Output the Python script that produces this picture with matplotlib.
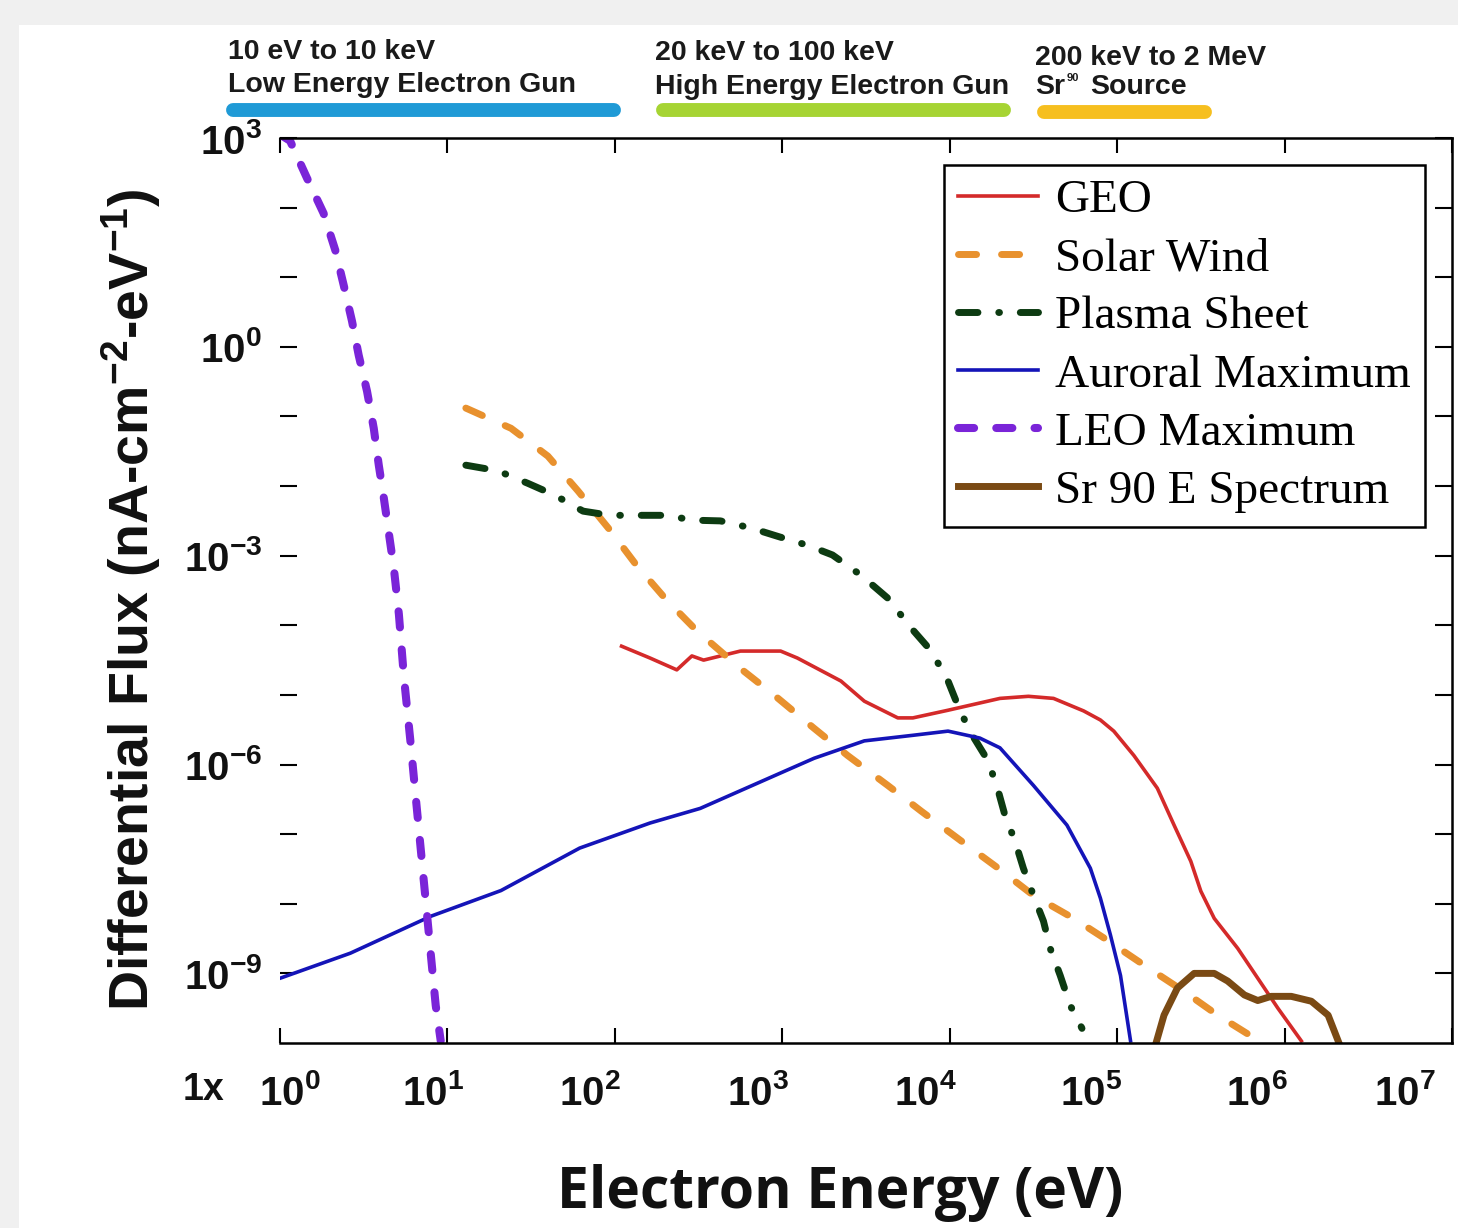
import numpy as np
import matplotlib
matplotlib.use("Agg")
import matplotlib.pyplot as plt
from matplotlib.lines import Line2D
from matplotlib.patches import Rectangle
from matplotlib.ticker import FixedLocator, FixedFormatter, NullLocator

# ==========================================================
# DATA (log10 of eV and of flux)
# ==========================================================
geo_log_e = [2.04, 2.21, 2.37, 2.46, 2.53, 2.75, 2.99, 3.09, 3.35, 3.49, 3.69, 3.78, 3.99,
             4.30, 4.47, 4.62, 4.80, 4.90, 4.98, 5.10, 5.24, 5.34, 5.44, 5.50, 5.58, 5.72,
             5.84, 5.96, 6.10]
geo_log_f = [-4.30, -4.47, -4.64, -4.44, -4.50, -4.37, -4.37, -4.47, -4.80, -5.09, -5.33, -5.33,
             -5.22, -5.05, -5.02, -5.05, -5.23, -5.36, -5.52, -5.87, -6.34, -6.87, -7.39, -7.82,
             -8.21, -8.64, -9.07, -9.50, -9.97]

sw_log_e = [1.11, 1.38, 1.60, 1.78, 1.97, 2.13, 2.31, 2.49, 2.75, 2.95, 3.19, 3.39, 3.63,
            3.83, 4.07, 4.29, 4.50, 4.74, 4.92, 5.16, 5.40, 5.60, 5.82, 5.89]
sw_log_f = [-0.88, -1.17, -1.57, -2.07, -2.63, -3.14, -3.64, -4.08, -4.62, -5.00, -5.48,
            -5.87, -6.30, -6.67, -7.10, -7.49, -7.88, -8.21, -8.49, -8.88, -9.26, -9.60,
            -9.93, -10.05]

ps_log_e = [1.11, 1.30, 1.48, 1.64, 1.81, 1.97, 2.15, 2.30, 2.47, 2.63, 2.81, 2.97, 3.15,
            3.30, 3.47, 3.63, 3.77, 3.89, 3.99, 4.05, 4.12, 4.23, 4.29, 4.33, 4.39, 4.44,
            4.50, 4.56, 4.60, 4.66, 4.72, 4.79]
ps_log_f = [-1.70, -1.78, -1.96, -2.13, -2.36, -2.42, -2.42, -2.42, -2.49, -2.50, -2.60,
            -2.72, -2.85, -2.99, -3.28, -3.61, -4.04, -4.37, -4.80, -5.16, -5.52, -5.95,
            -6.38, -6.73, -7.10, -7.49, -7.88, -8.25, -8.64, -9.03, -9.46, -9.79]

aur_log_e = [0.00, 0.42, 0.90, 1.32, 1.79, 2.21, 2.51, 3.01, 3.19, 3.49, 3.78, 3.99, 4.18,
             4.30, 4.50, 4.70, 4.84, 4.90, 4.96, 5.02, 5.08]
aur_log_f = [-9.07, -8.71, -8.18, -7.81, -7.20, -6.84, -6.63, -6.10, -5.91, -5.66, -5.58,
             -5.52, -5.62, -5.76, -6.30, -6.87, -7.49, -7.92, -8.45, -9.03, -9.97]

leo_log_e = [0.00, 0.06, 0.16, 0.26, 0.33, 0.38, 0.43, 0.47, 0.52, 0.56, 0.59, 0.62, 0.68,
             0.71, 0.74, 0.78, 0.81, 0.84, 0.87, 0.90, 0.93, 0.96]
leo_log_f = [3.05, 2.96, 2.43, 1.92, 1.39, 0.89, 0.37, -0.12, -0.64, -1.17, -1.70, -2.17,
             -3.18, -3.84, -4.74, -5.69, -6.45, -7.20, -7.95, -8.71, -9.46, -9.97]

sr_log_e = [5.23, 5.28, 5.36, 5.46, 5.58, 5.66, 5.76, 5.84, 5.92, 6.04, 6.16, 6.26, 6.32]
sr_log_f = [-10.02, -9.60, -9.21, -9.00, -9.00, -9.11, -9.31, -9.39, -9.33, -9.33, -9.40,
            -9.60, -9.97]

band_ranges = ["10 eV to 10 keV", "20 keV to 100 keV", "200 keV to 2 MeV"]
band_names = ["Low Energy Electron Gun", "High Energy Electron Gun", "Source"]
band_colors = ["#1f9ad6", "#a6d433", "#f6bf1f"]

x_decades = list(range(0, 8))
y_decades = list(range(-9, 4))
y_labelled = [3, 0, -3, -6, -9]

# ==========================================================
# STYLE
# ==========================================================
plt.rcParams["font.family"] = ["Liberation Sans", "DejaVu Sans"]
plt.rcParams["mathtext.fontset"] = "custom"
plt.rcParams["mathtext.rm"] = "Liberation Sans"
plt.rcParams["mathtext.bf"] = "Liberation Sans:bold"
plt.rcParams["mathtext.it"] = "Liberation Sans:italic"

W, H = 1458, 1228
fig = plt.figure(figsize=(W / 100, H / 100), dpi=100, facecolor="#f0f0f0")
fig.add_artist(Rectangle((19 / W, 0), 1, (H - 25) / H, transform=fig.transFigure,
                         facecolor="white", edgecolor="none", zorder=-10))

ax = fig.add_axes([280 / W, 1 - 1043 / H, (1452 - 280) / W, (1043 - 138) / H])
ax.set_facecolor("white")

# ==========================================================
# CURVES
# ==========================================================
def pw(v):
    return 10.0 ** np.array(v)

ax.plot(pw(geo_log_e), pw(geo_log_f), color="#d42a2a", lw=2.6, label="GEO")
ax.plot(pw(sw_log_e), pw(sw_log_f), color="#e8912e", lw=5, dashes=(2.6, 3.6),
        dash_capstyle="round", label="Solar Wind")
ax.plot(pw(ps_log_e), pw(ps_log_f), color="#0d3b12", lw=5, dashes=(2.8, 3.0, 0.1, 3.0),
        dash_capstyle="round", label="Plasma Sheet")
ax.plot(pw(aur_log_e), pw(aur_log_f), color="#1414b8", lw=2.6, label="Auroral Maximum")
ax.plot(pw(leo_log_e), pw(leo_log_f), color="#7a24d8", lw=5.8, dashes=(2.0, 2.75),
        dash_capstyle="round", label="LEO Maximum")
ax.plot(pw(sr_log_e), pw(sr_log_f), color="#7a4a14", lw=5, label="Sr 90 E Spectrum")

# ==========================================================
# AXES
# ==========================================================
ax.set_xscale("log")
ax.set_yscale("log")
ax.set_xlim(1, 1e7)
ax.set_ylim(1e-10, 1e3)

for side in ["top", "right", "bottom"]:
    ax.spines[side].set_linewidth(1.8)
ax.spines["left"].set_visible(False)

ax.xaxis.set_major_locator(FixedLocator([10.0 ** d for d in x_decades]))
ax.xaxis.set_minor_locator(NullLocator())
ax.yaxis.set_major_locator(FixedLocator([10.0 ** d for d in y_decades]))
ax.yaxis.set_minor_locator(NullLocator())
ax.yaxis.set_major_formatter(FixedFormatter(
    [r"$\mathbf{10^{%d}}$" % d if d in y_labelled else "" for d in y_decades]))

ax.tick_params(axis="x", direction="in", top=True, bottom=True, length=11, width=1.5,
               labelbottom=False)
ax.tick_params(axis="y", direction="in", left=True, right=True, length=12, width=1.5,
               pad=13, labelsize=29, labelcolor="#111111")

# x tick labels, shifted a little like the original
x_label_shift = [10, -14, -25, -24, -24, -26, -28, -47]
for d, dx in zip(x_decades, x_label_shift):
    ax.annotate(r"$\mathbf{10^{%d}}$" % d, xy=(10.0 ** d, 0), xycoords=("data", "axes fraction"),
                xytext=(dx * 0.72, -22), textcoords="offset points",
                ha="center", va="top", fontsize=29, color="#111111")
fig.text(183 / W, 1 - 1090 / H, "1x", ha="left", va="center", fontsize=27,
         fontweight="bold", color="#111111")

ax.set_ylabel(r"Differential Flux (nA-cm$^{\mathbf{-2}}$-eV$^{\mathbf{-1}}$)",
              fontsize=40, fontweight="bold", color="#111111")
ax.yaxis.set_label_coords(-0.100, 0.49)

fig.text(840 / W, 1 - 1193 / H, "Electron Energy (eV)", ha="center", va="center",
         fontsize=41, fontweight="bold", family=["Open Sans", "DejaVu Sans"], color="#111111")

# ==========================================================
# LEGEND
# ==========================================================
leg = ax.legend(loc="upper right", prop={"family": "Liberation Serif", "size": 34},
                frameon=True, fancybox=False, edgecolor="black", framealpha=1,
                handlelength=1.7, handletextpad=0.36, labelspacing=0.32,
                borderpad=0.3, borderaxespad=0.57)
leg.get_frame().set_linewidth(1.8)

# ==========================================================
# ENERGY BANDS ON TOP
# ==========================================================
text_x = [228, 655, 1090]
text_y1 = [52, 53, 58]
text_y2 = [85, 87, 87]
bar_x = [(233, 614), (663, 1004), (1044, 1205)]
bar_y = [110, 110, 112]
for i in range(3):
    fig.text([228, 655, 1035][i] / W, 1 - text_y1[i] / H, band_ranges[i], ha="left",
             va="center", fontsize=20.5, fontweight="bold", color="#1a1a1a")
    fig.text(text_x[i] / W, 1 - text_y2[i] / H, band_names[i], ha="left", va="center",
             fontsize=20.5, fontweight="bold", color="#1a1a1a")
    fig.add_artist(Line2D([bar_x[i][0] / W, bar_x[i][1] / W],
                          [1 - bar_y[i] / H, 1 - bar_y[i] / H], transform=fig.transFigure,
                          color=band_colors[i], lw=10, solid_capstyle="round"))
# "Sr" with its tiny "90" superscript
fig.text(1035 / W, 1 - 87 / H, "Sr", ha="left", va="center", fontsize=20.5,
         fontweight="bold", color="#1a1a1a")
fig.text(1067 / W, 1 - 78 / H, "90", ha="left", va="center", fontsize=8,
         fontweight="bold", color="#1a1a1a")

fig.savefig("out.png", dpi=100, facecolor=fig.get_facecolor())
